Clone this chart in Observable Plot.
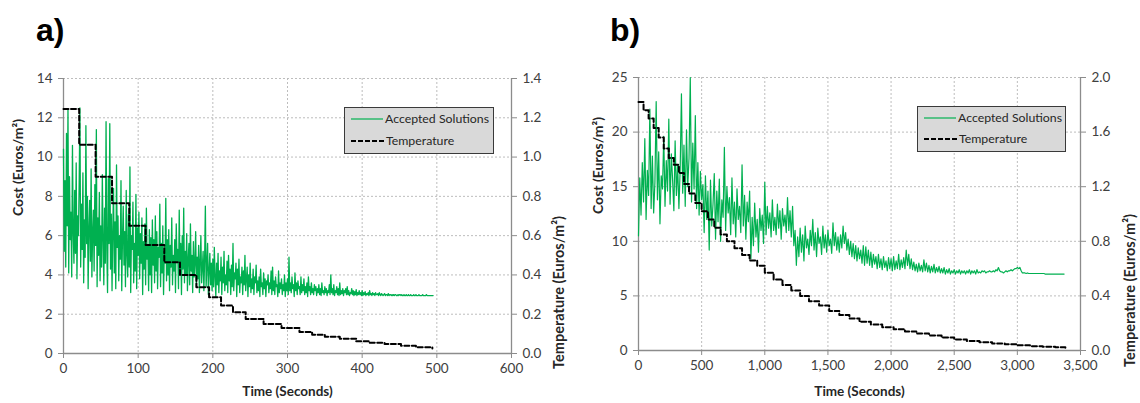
<!DOCTYPE html>
<html><head><meta charset="utf-8">
<script src="https://cdn.jsdelivr.net/npm/d3@7"></script>
<script src="https://cdn.jsdelivr.net/npm/@observablehq/plot@0.6"></script>
<style>
body{margin:0;background:#fff;width:1140px;height:403px;overflow:hidden;position:relative;font-family:Lato,"Open Sans",sans-serif;}
.panel{position:absolute;top:0;}
.tag{position:absolute;font-family:"Liberation Sans",Arial,sans-serif;font-weight:bold;font-size:32px;color:#000;line-height:1;}
.legend{position:absolute;background:#d9d9d9;border:1px solid #3a3a3a;font-size:12.3px;color:#262626;box-sizing:border-box;}
.legend .row{position:absolute;left:6px;display:flex;align-items:center;white-space:nowrap;}
.legend svg{display:block;margin-right:2px;}
</style></head><body>
<div class="tag" style="left:36px;top:14px;">a)</div>
<div class="tag" style="left:610px;top:14px;">b)</div>
<div id="pa" class="panel" style="left:0px;"></div>
<div id="pb" class="panel" style="left:570px;"></div>
<div class="legend" style="left:344px;top:107px;width:150px;height:47px;">
  <div class="row" style="top:3px;"><svg width="32" height="10"><line x1="0" x2="32" y1="5" y2="5" stroke="#00b050" stroke-width="1.2"/></svg>Accepted Solutions</div>
  <div class="row" style="top:25px;"><svg width="33" height="10"><line x1="0" x2="33" y1="5" y2="5" stroke="#000" stroke-width="2" stroke-dasharray="5,2"/></svg>Temperature</div>
</div>
<div class="legend" style="left:917px;top:106px;width:149px;height:46px;">
  <div class="row" style="top:3px;"><svg width="32" height="10"><line x1="0" x2="32" y1="5" y2="5" stroke="#00b050" stroke-width="1.2"/></svg>Accepted Solutions</div>
  <div class="row" style="top:24px;"><svg width="33" height="10"><line x1="0" x2="33" y1="5" y2="5" stroke="#000" stroke-width="2" stroke-dasharray="5,2"/></svg>Temperature</div>
</div>
<script>
// ---------- Panel a data ----------
const costAStep = 1; // seconds between accepted-solution samples
const costA = [
10.4,5.2,8.8,4.4,11.2,6.5,12.4,4.1,9.0,5.8,7.2,3.9,10.6,6.2,4.6,8.3,5.1,9.7,3.8,7.0,
6.0,8.7,12.5,4.4,7.6,5.3,9.2,3.6,6.8,4.9,11.6,5.6,8.0,3.3,6.4,7.8,4.7,9.4,3.9,6.1,
7.3,4.2,8.6,5.5,11.4,3.4,6.9,5.0,8.2,3.7,6.5,4.4,9.1,5.8,3.5,7.4,4.6,11.8,5.2,3.1,
8.9,5.6,11.7,4.3,7.1,3.2,6.3,8.4,4.1,6.7,3.3,9.6,5.4,7.0,3.7,6.0,4.8,8.8,3.2,5.9,
7.5,4.5,6.2,3.4,8.3,5.1,3.9,7.1,4.4,9.5,3.1,6.0,5.3,7.7,3.6,5.6,4.2,8.1,3.3,6.4,
5.0,7.2,3.8,6.1,4.6,6.9,3.0,5.7,4.3,6.6,3.5,7.4,4.8,5.5,3.2,6.3,4.0,5.9,3.1,6.8,
4.5,5.8,3.6,7.0,4.2,6.2,3.3,5.4,4.9,7.6,3.4,5.6,4.1,6.5,3.0,5.2,4.6,7.9,3.7,5.8,
4.0,6.3,3.2,5.5,4.4,6.9,3.5,5.0,4.2,5.8,3.1,6.6,4.7,5.3,3.3,7.3,4.1,5.6,3.0,6.0,
4.3,7.4,3.6,5.2,4.0,6.1,3.2,4.8,5.6,3.5,6.6,4.2,5.0,3.1,5.7,3.9,4.6,6.2,3.4,4.9,
3.8,5.5,3.1,4.7,6.0,3.6,4.4,5.2,3.2,4.8,7.5,3.4,4.5,5.6,3.0,4.2,5.1,3.5,4.6,3.2,
4.8,3.4,5.4,3.9,2.9,4.6,3.5,5.1,3.1,4.2,3.7,4.9,3.0,4.4,3.6,5.2,3.2,4.0,3.5,4.7,
3.1,5.0,3.7,4.3,3.0,4.5,3.4,5.6,3.2,4.1,3.8,4.6,2.9,4.3,3.5,4.8,3.1,3.9,3.6,4.4,
3.0,4.2,3.5,5.0,3.2,3.8,4.4,2.9,4.0,3.4,4.6,3.1,3.8,3.3,4.3,3.0,3.9,3.6,4.5,3.1,
3.7,3.2,3.9,2.9,4.3,3.4,3.6,3.0,4.1,3.3,3.8,2.9,3.7,3.5,4.0,3.1,3.6,3.3,4.2,3.0,
4.4,3.2,3.7,3.0,3.9,3.4,3.5,2.9,4.2,3.1,3.6,3.3,3.8,3.0,3.5,3.2,4.0,2.9,3.6,3.2,
3.8,3.0,4.9,3.2,3.6,3.1,3.9,3.3,3.5,2.9,4.1,3.2,3.6,3.0,3.7,3.3,3.4,3.0,3.9,3.1,
3.5,3.2,3.8,3.0,3.4,3.1,3.6,2.9,3.9,3.2,3.4,3.0,3.6,3.1,3.3,3.0,3.5,3.2,3.4,2.95,
3.3,3.1,3.5,3.0,3.3,2.95,3.6,3.1,3.2,3.0,3.4,3.1,3.3,2.95,3.2,3.1,3.5,3.0,4.0,3.1,
3.3,3.0,3.5,2.95,3.2,3.1,3.4,3.0,3.3,2.95,3.6,3.0,3.2,3.05,3.3,2.95,3.2,3.1,3.3,3.0,
3.4,3.0,3.2,2.95,3.1,3.05,3.3,3.0,3.2,2.95,3.15,3.0,3.25,2.95,3.1,3.0,3.2,3.0,3.1,2.95,
3.2,2.95,3.1,3.0,3.15,2.95,3.05,3.0,3.1,2.95,3.2,3.0,3.05,2.95,3.1,3.0,3.05,2.95,3.1,3.0,
3.0,3.05,2.95,3.1,3.0,2.95,3.05,3.0,2.95,3.0,3.05,2.95,3.0,3.0,2.95,3.05,2.95,3.0,3.0,2.95,
3.0,2.95,3.0,2.95,3.0,3.0,2.95,2.95,3.0,2.95,3.0,3.0,2.95,3.0,2.95,2.95,3.0,2.95,2.95,3.0,
2.95,2.95,3.0,2.95,2.95,3.0,2.95,2.95,2.95,3.0,2.95,2.95,3.0,2.95,2.95,2.95,3.0,2.95,2.95,2.95,
2.95,3.0,2.95,2.95,2.95,2.95,3.0,2.95,2.95,2.95,2.95,2.95,2.95,2.95,2.95,2.95
];
const tempATime = [0,21,43,65,88,110,135,156,178,195,211,227,244,268,292,316,333,350,370,392,410,430,452,472,494];
const tempAValue = [1.245,1.063,0.90,0.765,0.65,0.553,0.465,0.40,0.337,0.286,0.244,0.21,0.176,0.15,0.13,0.11,0.095,0.085,0.075,0.062,0.055,0.048,0.04,0.032,0.025];
const xTicksA = [0,100,200,300,400,500,600];
const costTicksA = [0,2,4,6,8,10,12,14];
const tempTicksA = [0,0.2,0.4,0.6,0.8,1.0,1.2,1.4];

// ---------- Panel b data ----------
const costBStep = 10;
const costB = [
10.5,15.8,12.4,17.2,13.6,19.4,12.0,16.5,14.2,22.1,13.0,17.8,12.6,15.4,22.8,13.8,18.2,11.6,16.0,14.8,
19.6,13.2,17.4,14.6,21.2,13.4,18.0,15.6,12.8,19.2,14.2,17.0,13.0,16.6,23.5,14.4,18.8,13.2,20.2,15.0,
17.6,25.0,13.6,19.0,14.8,21.5,13.0,17.2,12.4,16.4,13.8,15.2,10.8,16.0,12.0,14.6,9.2,15.6,11.4,13.4,
16.2,10.2,14.6,11.8,15.7,10.0,13.8,12.2,18.6,11.0,15.0,12.6,14.0,10.6,15.8,11.6,13.6,10.4,14.8,12.0,
13.2,10.8,17.0,11.4,14.2,10.2,13.6,11.8,14.6,8.4,12.2,9.6,13.5,10.4,12.0,9.0,13.0,11.0,12.4,9.8,
15.4,10.6,13.2,11.2,12.6,10.4,13.8,11.0,12.2,10.6,13.4,11.2,12.8,10.2,13.0,11.4,12.4,10.8,14.0,11.0,
12.8,10.4,13.2,9.6,11.0,7.8,10.4,8.6,11.2,9.0,10.6,8.2,11.4,9.4,10.2,8.8,11.0,9.6,12.0,9.2,
10.8,8.6,11.2,9.8,10.4,8.8,11.4,9.4,10.6,9.0,11.0,9.6,10.2,8.9,11.7,9.6,10.8,9.2,10.4,9.0,
10.6,9.4,11.4,9.8,10.8,9.2,10.2,8.8,10.0,8.6,9.8,8.4,9.6,8.2,9.4,8.4,9.2,8.0,9.6,7.8,
9.5,8.0,9.2,7.8,9.0,7.6,8.8,7.9,8.6,7.5,8.8,7.6,8.4,7.4,8.6,7.6,8.2,7.3,8.5,7.5,
8.4,7.3,8.6,7.4,8.2,7.5,8.8,7.4,8.3,7.6,8.5,7.5,9.2,7.8,8.8,7.5,8.4,7.4,8.1,7.3,
7.9,7.2,8.0,7.3,7.8,7.2,8.3,7.3,8.0,7.2,7.8,7.1,7.7,7.2,7.9,7.1,7.6,7.2,7.7,7.1,
7.5,7.1,7.6,7.0,7.4,7.1,7.5,7.0,7.3,7.1,7.4,7.0,7.3,7.1,7.4,7.0,7.3,7.1,7.3,7.0,
7.3,7.1,7.4,7.0,7.3,7.1,7.3,7.0,7.4,7.1,7.2,7.1,7.3,7.2,7.3,7.1,7.2,7.2,7.3,7.2,
7.2,7.3,7.2,7.4,7.3,7.6,7.3,7.2,7.2,7.1,7.2,7.3,7.2,7.3,7.3,7.4,7.3,7.4,7.5,7.5,
7.6,7.5,7.6,7.3,7.1,7.1,7.1,7.05,7.1,7.05,7.05,7.05,7.05,7.05,7.05,7.05,7.05,7.05,7.05,7.05,
7.05,7.05,7.0,7.0,7.0,7.0,7.0,7.0,7.0,7.0,7.0,7.0,7.0,7.0,7.0,7.0,7.0,7.0
];
const tempBTime = [0,40,80,120,160,200,240,280,320,360,400,450,500,550,600,650,700,760,820,880,940,1000,1070,1140,1210,1280,1350,1430,1510,1590,1670,1750,1840,1930,2020,2110,2200,2300,2400,2500,2600,2700,2800,2900,3000,3100,3200,3300,3380];
const tempBValue = [1.82,1.76,1.70,1.63,1.56,1.48,1.41,1.36,1.30,1.22,1.15,1.08,1.02,0.96,0.90,0.85,0.80,0.75,0.70,0.66,0.62,0.57,0.52,0.48,0.44,0.40,0.36,0.33,0.29,0.26,0.235,0.21,0.19,0.17,0.155,0.14,0.125,0.11,0.095,0.08,0.07,0.06,0.052,0.045,0.038,0.032,0.027,0.023,0.02];
const xTicksB = [0,500,1000,1500,2000,2500,3000,3500];
const costTicksB = [0,5,10,15,20,25];
const tempTicksB = [0,0.4,0.8,1.2,1.6,2.0];

const GREEN = "#00b050", AXIS = "#8c8c8c", GRID = "#bdbdbd", TXT = "#404040";

function panel(o) {
  const k = o.costMax / o.tempMax; // right-axis to left-axis scale factor
  const cost = o.cost.map((v, i) => ({t: i * o.step, v}));
  const temp = o.tempT.map((t, i) => ({t, v: o.tempV[i]}));
  return Plot.plot({
    width: 570, height: 403,
    marginLeft: o.ml, marginRight: o.mr, marginTop: o.mt, marginBottom: o.mb,
    x: {domain: [0, o.xMax]},
    y: {domain: [0, o.costMax]},
    style: {fontFamily: "Lato, 'Open Sans', sans-serif", fontSize: "13.5px", color: TXT, background: "transparent", overflow: "visible"},
    marks: [
      Plot.gridX(o.xTicks, {stroke: GRID, strokeOpacity: 1, strokeDasharray: "2,2"}),
      Plot.gridY(o.costTicks, {stroke: GRID, strokeOpacity: 1, strokeDasharray: "2,2"}),
      Plot.ruleX([0, o.xMax], {stroke: AXIS, strokeWidth: 1.3}),
      Plot.ruleY([0], {stroke: AXIS, strokeWidth: 1.3}),
      Plot.axisX(o.xTicks, {label: null, tickSize: 5, tickPadding: 5, stroke: AXIS, tickFormat: d3.format(","), fill: TXT}),
      Plot.axisY(o.costTicks, {anchor: "left", label: null, tickSize: 5, tickPadding: 6, stroke: AXIS, fill: TXT}),
      Plot.axisY(o.tempTicks.map(v => v * k), {anchor: "right", label: null, tickSize: 5, tickPadding: 6, stroke: AXIS, fill: TXT, tickFormat: d => (d / k).toFixed(1)}),
      Plot.line(cost, {x: "t", y: "v", stroke: GREEN, strokeWidth: o.gw}),
      Plot.line(temp, {x: "t", y: d => d.v * k, curve: "step-after", stroke: "#000", strokeWidth: 2, strokeDasharray: "5,2.5"}),
      Plot.text(["Cost (Euros/m²)"], {frameAnchor: "left", dx: o.costDx, rotate: -90, fontWeight: "bold", fontSize: 14, fill: "#262626"}),
      Plot.text(["Temperature (Euros/m²)"], {frameAnchor: "right", dx: o.tempDx, rotate: -90, fontWeight: "bold", fontSize: 14.5, fill: "#262626"}),
      Plot.text(["Time (Seconds)"], {frameAnchor: "bottom", dy: o.timeDy, fontWeight: "bold", fontSize: 13.5, fill: "#262626"})
    ]
  });
}

document.getElementById("pa").append(panel({
  cost: costA, step: costAStep, tempT: tempATime, tempV: tempAValue, gw: 1.3,
  xMax: 600, costMax: 14, tempMax: 1.4, xTicks: xTicksA, costTicks: costTicksA, tempTicks: tempTicksA,
  ml: 63, mr: 59, mt: 78, mb: 50, costDx: -45, tempDx: 48, timeDy: 42
}));
document.getElementById("pb").append(panel({
  cost: costB, step: costBStep, tempT: tempBTime, tempV: tempBValue, gw: 1.2,
  xMax: 3500, costMax: 25, tempMax: 2.0, xTicks: xTicksB, costTicks: costTicksB, tempTicks: tempTicksB,
  ml: 68, mr: 60, mt: 77, mb: 53, costDx: -40, tempDx: 50, timeDy: 45
}));
</script>
</body></html>
